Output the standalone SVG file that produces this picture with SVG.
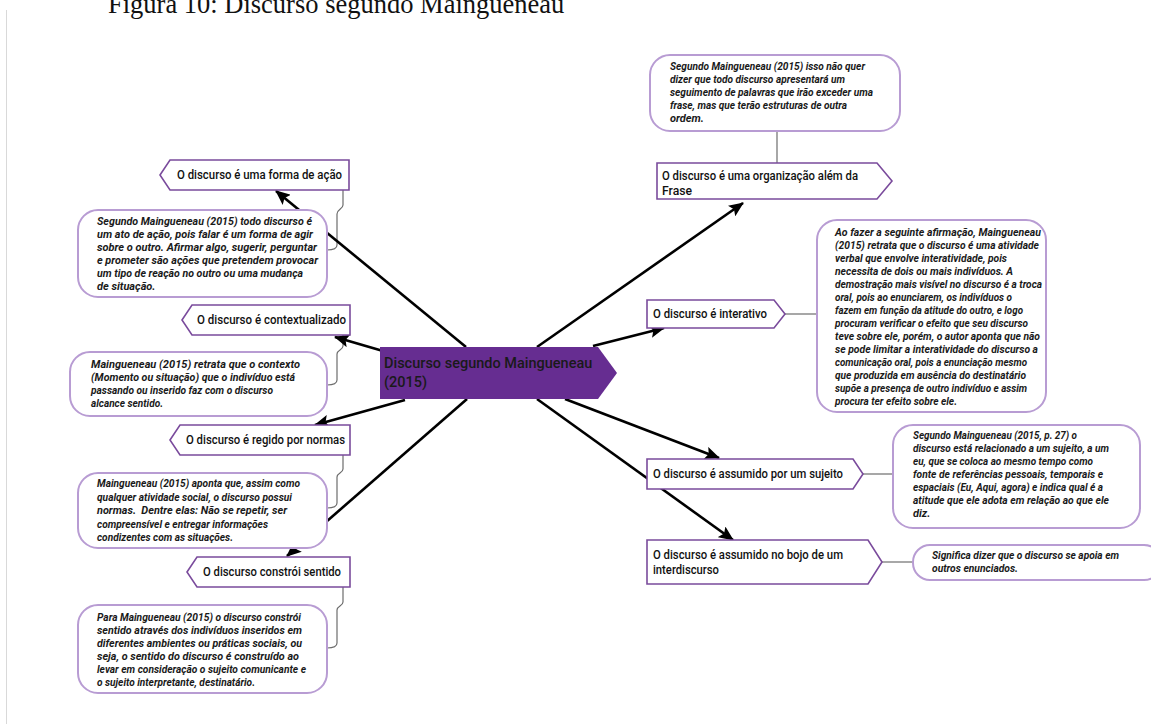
<svg xmlns="http://www.w3.org/2000/svg" width="1151" height="724" viewBox="0 0 1151 724">
<style>
.title{font-family:"Liberation Serif","Times New Roman",serif;font-size:26.5px;fill:#111}
.lbl{fill:#fff;stroke:#7a4b9c;stroke-width:1.6}
.lt{font-family:Roboto,"Noto Sans",sans-serif;font-weight:500;font-size:13px;fill:#111}
.box{fill:#fff;stroke:#b89cd3;stroke-width:2}
.bt{font-family:Roboto,"Noto Sans",sans-serif;font-weight:700;font-style:italic;font-size:11px;fill:#1a1a1a}
.cn{fill:none;stroke:#6d6d6d;stroke-width:1.2}
.ar{fill:none;stroke:#000;stroke-width:2.6}
.ct{font-family:Roboto,"Noto Sans",sans-serif;font-weight:500;font-size:14.5px;fill:#1a1a1a}
</style>
<defs>
<marker id="ah" markerUnits="userSpaceOnUse" markerWidth="15" markerHeight="13" refX="14" refY="6.5" orient="auto">
<path d="M0,0 L15,6.5 L0,13 L3,6.5 z" fill="#000"/>
</marker>
</defs>
<rect x="0" y="0" width="1151" height="724" fill="#fff"/>
<line x1="6.5" y1="10" x2="6.5" y2="724" stroke="#d9d9d9" stroke-width="1"/>
<text class="title" x="108" y="13">Figura 10: Discurso segundo Maingueneau</text>

<g id="connectors">
<path class="cn" d="M777,131 V163"/>
<path class="cn" d="M785,314 H817"/>
<path class="cn" d="M863,474 H893"/>
<path class="cn" d="M882,562 H913"/>
<path class="cn" d="M343,190 V205 C343,209 337,209 337,214 V245 C337,249 333,250 327,250"/>
<path class="cn" d="M343,335 V346 C343,350 337,350 337,354 V380 C337,384 333,385 327,385"/>
<path class="cn" d="M343,455 V469 C343,473 337,473 337,477 V503 C337,507 333,508 327,508"/>
<path class="cn" d="M343,587 V602 C343,606 337,606 337,610 V643 C337,647 333,648 327,648"/>
<line class="ar" x1="466" y1="347" x2="276" y2="191" marker-end="url(#ah)"/>
<line class="ar" x1="383" y1="351" x2="335" y2="337" marker-end="url(#ah)"/>
<line class="ar" x1="405" y1="400" x2="315" y2="425" marker-end="url(#ah)"/>
<line class="ar" x1="467" y1="399" x2="287" y2="556" marker-end="url(#ah)"/>
<line class="ar" x1="537" y1="347" x2="743" y2="203" marker-end="url(#ah)"/>
<line class="ar" x1="593" y1="346" x2="664" y2="328" marker-end="url(#ah)"/>
<line class="ar" x1="565" y1="399" x2="719" y2="458" marker-end="url(#ah)"/>
<line class="ar" x1="537" y1="399" x2="733" y2="540" marker-end="url(#ah)"/>
</g>

<g id="center">
<polygon points="380,347 598,347 617,373 598,399 380,399" fill="#662d91"/>
<text class="ct" x="384" y="368">Discurso segundo Maingueneau</text>
<text class="ct" x="384" y="387">(2015)</text>
</g>

<g id="n-organizacao">
<polygon class="lbl" points="657,163 877,163 892,181 877,199 657,199"/>
<text class="lt" x="662" y="180" textLength="196" lengthAdjust="spacingAndGlyphs">O discurso é uma organização além da</text>
<text class="lt" x="662" y="195" textLength="30" lengthAdjust="spacingAndGlyphs">Frase</text>
</g>
<g id="b-organizacao">
<rect class="box" x="650" y="55" width="250" height="76" rx="20"/>
<text class="bt" x="670" y="70" textLength="195" lengthAdjust="spacingAndGlyphs">Segundo Maingueneau (2015) isso não quer</text>
<text class="bt" x="670" y="83" textLength="175" lengthAdjust="spacingAndGlyphs">dizer que todo discurso apresentará um</text>
<text class="bt" x="670" y="96" textLength="203" lengthAdjust="spacingAndGlyphs">seguimento de palavras que irão exceder uma</text>
<text class="bt" x="670" y="109" textLength="177" lengthAdjust="spacingAndGlyphs">frase, mas que terão estruturas de outra</text>
<text class="bt" x="670" y="122">ordem.</text>
</g>

<g id="n-interativo">
<polygon class="lbl" points="647,300 774,300 785,314 774,328 647,328"/>
<text class="lt" x="653" y="318" textLength="114" lengthAdjust="spacingAndGlyphs">O discurso é interativo</text>
</g>
<g id="b-interativo">
<rect class="box" x="817" y="220" width="229" height="192" rx="20"/>
<text class="bt" x="835" y="236" textLength="206" lengthAdjust="spacingAndGlyphs">Ao fazer a seguinte afirmação, Maingueneau</text>
<text class="bt" x="835" y="249" textLength="204" lengthAdjust="spacingAndGlyphs">(2015) retrata que o discurso é uma atividade</text>
<text class="bt" x="835" y="262" textLength="172" lengthAdjust="spacingAndGlyphs">verbal que envolve interatividade, pois</text>
<text class="bt" x="835" y="275" textLength="178" lengthAdjust="spacingAndGlyphs">necessita de dois ou mais indivíduos. A</text>
<text class="bt" x="835" y="288" textLength="207" lengthAdjust="spacingAndGlyphs">demostração mais visível no discurso é a troca</text>
<text class="bt" x="835" y="301" textLength="177" lengthAdjust="spacingAndGlyphs">oral, pois ao enunciarem, os indivíduos o</text>
<text class="bt" x="835" y="314" textLength="188" lengthAdjust="spacingAndGlyphs">fazem em função da atitude do outro, e logo</text>
<text class="bt" x="835" y="327" textLength="193" lengthAdjust="spacingAndGlyphs">procuram verificar o efeito que seu discurso</text>
<text class="bt" x="835" y="340" textLength="205" lengthAdjust="spacingAndGlyphs">teve sobre ele, porém, o autor aponta que não</text>
<text class="bt" x="835" y="353" textLength="203" lengthAdjust="spacingAndGlyphs">se pode limitar a interatividade do discurso a</text>
<text class="bt" x="835" y="366" textLength="192" lengthAdjust="spacingAndGlyphs">comunicação oral, pois a enunciação mesmo</text>
<text class="bt" x="835" y="379" textLength="191" lengthAdjust="spacingAndGlyphs">que produzida em ausência do destinatário</text>
<text class="bt" x="835" y="392" textLength="192" lengthAdjust="spacingAndGlyphs">supõe a presença de outro indivíduo e assim</text>
<text class="bt" x="835" y="405" textLength="122" lengthAdjust="spacingAndGlyphs">procura ter efeito sobre ele.</text>
</g>

<g id="n-sujeito">
<polygon class="lbl" points="647,459 853,459 863,474 853,489 647,489"/>
<text class="lt" x="653" y="478" textLength="190" lengthAdjust="spacingAndGlyphs">O discurso é assumido por um sujeito</text>
</g>
<g id="b-sujeito">
<rect class="box" x="893" y="425" width="247" height="103" rx="20"/>
<text class="bt" x="913" y="439" textLength="164" lengthAdjust="spacingAndGlyphs">Segundo Maingueneau (2015, p. 27) o</text>
<text class="bt" x="913" y="452" textLength="196" lengthAdjust="spacingAndGlyphs">discurso está relacionado a um sujeito, a um</text>
<text class="bt" x="913" y="465" textLength="180" lengthAdjust="spacingAndGlyphs">eu, que se coloca ao mesmo tempo como</text>
<text class="bt" x="913" y="478" textLength="190" lengthAdjust="spacingAndGlyphs">fonte de referências pessoais, temporais e</text>
<text class="bt" x="913" y="491" textLength="190" lengthAdjust="spacingAndGlyphs">espaciais (Eu, Aqui, agora) e indica qual é a</text>
<text class="bt" x="913" y="504" textLength="196" lengthAdjust="spacingAndGlyphs">atitude que ele adota em relação ao que ele</text>
<text class="bt" x="913" y="517">diz.</text>
</g>

<g id="n-interdiscurso">
<polygon class="lbl" points="647,540 868,540 882,562 868,584 647,584"/>
<text class="lt" x="653" y="559" textLength="190" lengthAdjust="spacingAndGlyphs">O discurso é assumido no bojo de um</text>
<text class="lt" x="653" y="574" textLength="66" lengthAdjust="spacingAndGlyphs">interdiscurso</text>
</g>
<g id="b-interdiscurso">
<rect class="box" x="913" y="545" width="248" height="35" rx="17"/>
<text class="bt" x="932" y="559" textLength="187" lengthAdjust="spacingAndGlyphs">Significa dizer que o discurso se apoia em</text>
<text class="bt" x="932" y="572" textLength="86" lengthAdjust="spacingAndGlyphs">outros enunciados.</text>
</g>

<g id="n-acao">
<polygon class="lbl" points="160,175 170,160 349,160 349,190 170,190"/>
<text class="lt" x="177" y="179" textLength="165" lengthAdjust="spacingAndGlyphs">O discurso é uma forma de ação</text>
</g>
<g id="b-acao">
<rect class="box" x="78" y="210" width="249" height="87" rx="20"/>
<text class="bt" x="97" y="225" textLength="215" lengthAdjust="spacingAndGlyphs">Segundo Maingueneau (2015) todo discurso é</text>
<text class="bt" x="97" y="238" textLength="216" lengthAdjust="spacingAndGlyphs">um ato de ação, pois falar é um forma de agir</text>
<text class="bt" x="97" y="251" textLength="220" lengthAdjust="spacingAndGlyphs">sobre o outro. Afirmar algo, sugerir, perguntar</text>
<text class="bt" x="97" y="264" textLength="221" lengthAdjust="spacingAndGlyphs">e prometer são ações que pretendem provocar</text>
<text class="bt" x="97" y="277" textLength="206" lengthAdjust="spacingAndGlyphs">um tipo de reação no outro ou uma mudança</text>
<text class="bt" x="97" y="290">de situação.</text>
</g>

<g id="n-contexto">
<polygon class="lbl" points="182,320 192,305 350,305 350,335 192,335"/>
<text class="lt" x="197" y="324" textLength="149" lengthAdjust="spacingAndGlyphs">O discurso é contextualizado</text>
</g>
<g id="b-contexto">
<rect class="box" x="70" y="352" width="257" height="64" rx="20"/>
<text class="bt" x="91" y="368" textLength="209" lengthAdjust="spacingAndGlyphs">Maingueneau (2015) retrata que o contexto</text>
<text class="bt" x="91" y="381" textLength="204" lengthAdjust="spacingAndGlyphs">(Momento ou situação) que o indivíduo está</text>
<text class="bt" x="91" y="394" textLength="182" lengthAdjust="spacingAndGlyphs">passando ou inserido faz com o discurso</text>
<text class="bt" x="91" y="407" textLength="72" lengthAdjust="spacingAndGlyphs">alcance sentido.</text>
</g>

<g id="n-normas">
<polygon class="lbl" points="170,440 180,425 350,425 350,455 180,455"/>
<text class="lt" x="186" y="444" textLength="159" lengthAdjust="spacingAndGlyphs">O discurso é regido por normas</text>
</g>
<g id="b-normas">
<rect class="box" x="78" y="473" width="249" height="75" rx="20"/>
<text class="bt" x="97" y="487" textLength="203" lengthAdjust="spacingAndGlyphs">Maingueneau (2015) aponta que, assim como</text>
<text class="bt" x="97" y="500.5" textLength="195" lengthAdjust="spacingAndGlyphs">qualquer atividade social, o discurso possui</text>
<text class="bt" x="97" y="514" textLength="190" lengthAdjust="spacingAndGlyphs" xml:space="preserve">normas.  Dentre elas: Não se repetir, ser</text>
<text class="bt" x="97" y="527.5" textLength="171" lengthAdjust="spacingAndGlyphs">compreensível e entregar informações</text>
<text class="bt" x="97" y="541" textLength="136" lengthAdjust="spacingAndGlyphs">condizentes com as situações.</text>
</g>

<g id="n-sentido">
<polygon class="lbl" points="187,572 197,557 350,557 350,587 197,587"/>
<text class="lt" x="203" y="576" textLength="138" lengthAdjust="spacingAndGlyphs">O discurso constrói sentido</text>
</g>
<g id="b-sentido">
<rect class="box" x="78" y="605" width="249" height="88" rx="20"/>
<text class="bt" x="97" y="621" textLength="204" lengthAdjust="spacingAndGlyphs">Para Maingueneau (2015) o discurso constrói</text>
<text class="bt" x="97" y="634" textLength="205" lengthAdjust="spacingAndGlyphs">sentido através dos indivíduos inseridos em</text>
<text class="bt" x="97" y="647" textLength="205" lengthAdjust="spacingAndGlyphs">diferentes ambientes ou práticas sociais, ou</text>
<text class="bt" x="97" y="660" textLength="202" lengthAdjust="spacingAndGlyphs">seja, o sentido do discurso é construído ao</text>
<text class="bt" x="97" y="673" textLength="209" lengthAdjust="spacingAndGlyphs">levar em consideração o sujeito comunicante e</text>
<text class="bt" x="97" y="686" textLength="158" lengthAdjust="spacingAndGlyphs">o sujeito interpretante, destinatário.</text>
</g>
</svg>
